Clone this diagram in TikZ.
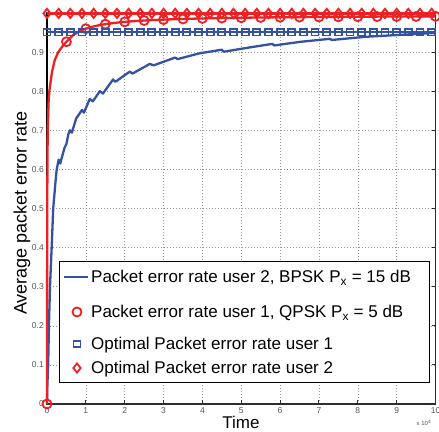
\documentclass[tikz,border=0pt]{standalone}
\usepackage{fontspec}
\setmainfont{Liberation Sans}
\usetikzlibrary{shapes.geometric}
\definecolor{pred}{RGB}{237,32,36}
\definecolor{pblue}{RGB}{52,82,164}
\definecolor{gridgray}{RGB}{150,150,150}
\definecolor{ticklbl}{RGB}{85,85,85}
\definecolor{axisgray}{RGB}{45,45,45}
\begin{document}
\begin{tikzpicture}[x=1pt,y=1pt,
  circmark/.style={circle, draw=pred, line width=1.8pt, minimum size=9pt, inner sep=0pt},
  sqmark/.style={rectangle, draw=pblue, line width=1.8pt, minimum width=7pt, minimum height=6.5pt, inner sep=0pt},
  diamark/.style={diamond, draw=pred, line width=1.8pt, minimum width=8pt, minimum height=10pt, inner sep=0pt},
  gridline/.style={gridgray, line width=0.5pt, dash pattern=on 0.6pt off 2.4pt},
  ticklabel/.style={ticklbl, font=\fontsize{8.5}{10}\selectfont, inner sep=0pt},
  legtext/.style={anchor=base west, inner sep=0pt, font=\fontsize{17}{20}\selectfont},
  axlabel/.style={inner sep=0pt, font=\fontsize{18}{21}\selectfont},
  blueline/.style={pblue, line width=2.3pt, line join=round},
  redline/.style={pred, line width=2.3pt, line join=round}]
\useasboundingbox (0,0) rectangle (439,431);
\fill[white] (0,0) rectangle (439,431);
\begin{scope}[shift={(47,27)}, x=38.85pt, y=391pt]
  % grid
  \foreach \i in {1,...,9} \draw[gridline] (\i,0) -- (\i,1);
  \foreach \k in {1,...,9} \draw[gridline] (0,\k/10) -- (10,\k/10);
  % axes box
  \draw[axisgray, line width=1.5pt] (0,0) rectangle (10,1);
  \draw[black, line width=1.8pt] (0,0) -- (0,1);
  \foreach \i in {1,...,9} \draw[axisgray, line width=1pt] (\i,0) -- ++(0,4pt);
  \foreach \k in {1,...,9} \draw[axisgray, line width=1pt] (10,\k/10) -- ++(-4pt,0);
  % tick labels
  \foreach \i in {0,...,10} \node[ticklabel] (xt\i) at ([yshift=-7pt]\i,0) {\i};
  \node[ticklabel, anchor=east] (yt0) at ([xshift=-3pt]0,0) {0};
  \foreach \k in {1,...,9} \node[ticklabel, anchor=east] (yt\k) at ([xshift=-3pt]0,\k/10) {0.\k};
  % blue curve (user 2, BPSK)
  \draw[blueline] plot coordinates {(0,0) (0.01,0.05) (0.03,0.1) (0.05,0.2) (0.077,0.3) (0.12,0.4) (0.16,0.5) (0.22,0.57) (0.25,0.6) (0.3,0.625) (0.34,0.615) (0.45,0.655) (0.5,0.665) (0.55,0.69) (0.59,0.7) (0.64,0.694) (0.75,0.73) (0.9,0.752) (0.95,0.745) (1.1,0.78) (1.18,0.774) (1.36,0.8) (1.44,0.794) (1.7,0.83) (1.76,0.824) (2.13,0.85) (2.2,0.845) (2.65,0.87) (2.74,0.866) (3.3,0.886) (3.36,0.882) (3.93,0.897) (4.5,0.906) (4.55,0.901) (5.22,0.912) (5.8,0.921) (5.85,0.917) (6.5,0.926) (7.28,0.934) (7.33,0.931) (8.18,0.939) (9.07,0.944) (10,0.949)};
  % red curve (user 1, QPSK)
  \draw[redline] plot coordinates {(0,0) (0.003,0.3) (0.008,0.55) (0.018,0.7) (0.04,0.77) (0.06,0.8) (0.13,0.85) (0.2,0.88) (0.29,0.9) (0.4,0.915) (0.5,0.9264)};
  \draw[redline] plot[domain=0.5:10, samples=60] (\x,{0.995-0.036/(\x+0.025)});
  \node[circmark] (c0) at (0,0) {};
  \foreach \k in {1,...,20} {
    \pgfmathsetmacro\tt{0.5*\k}
    \node[circmark] (c\k) at (\tt,{0.995-0.036/(\tt+0.025)}) {};
  }
  % optimal user 1 (squares)
  \draw[blueline] (0,0.951) -- (10,0.951);
  \foreach \k in {0,...,33} \node[sqmark] (s\k) at (0.3*\k,0.951) {};
  % optimal user 2 (diamonds)
  \draw[redline] (0,0.999) -- (10,0.999);
  \foreach \k in {0,...,33} \node[diamark] (d\k) at (0.3*\k,0.999) {};
\end{scope}
% legend
\draw[black, line width=1pt, fill=white] (59,48) rectangle (429,169);
\coordinate (la1) at (64,154); \coordinate (lb1) at (88,154);
\draw[blueline] (la1) -- (lb1);
\node[legtext] (t1) at (91,148) {Packet error rate user 2, BPSK P\textsubscript{x} = 15 dB};
\node[circmark] (lm2) at (77,119) {};
\node[legtext] (t2) at (91,113) {Packet error rate user 1, QPSK P\textsubscript{x} = 5 dB};
\node[sqmark] (lm3) at (77,87) {};
\node[legtext] (t3) at (91,81) {Optimal Packet error rate user 1};
\node[diamark] (lm4) at (77,63) {};
\node[legtext] (t4) at (91,57) {Optimal Packet error rate user 2};
% axis labels
\node[axlabel, rotate=90] (ylab) at (22,218) {Average packet error rate};
\node[axlabel, font=\fontsize{17}{20}\selectfont] (xlab) at (241,8.5) {Time};
\node[ticklbl, inner sep=0pt, font=\fontsize{6}{7}\selectfont] (xmult) at (424,8) {x 10\textsuperscript{4}};
\end{tikzpicture}
\end{document}
